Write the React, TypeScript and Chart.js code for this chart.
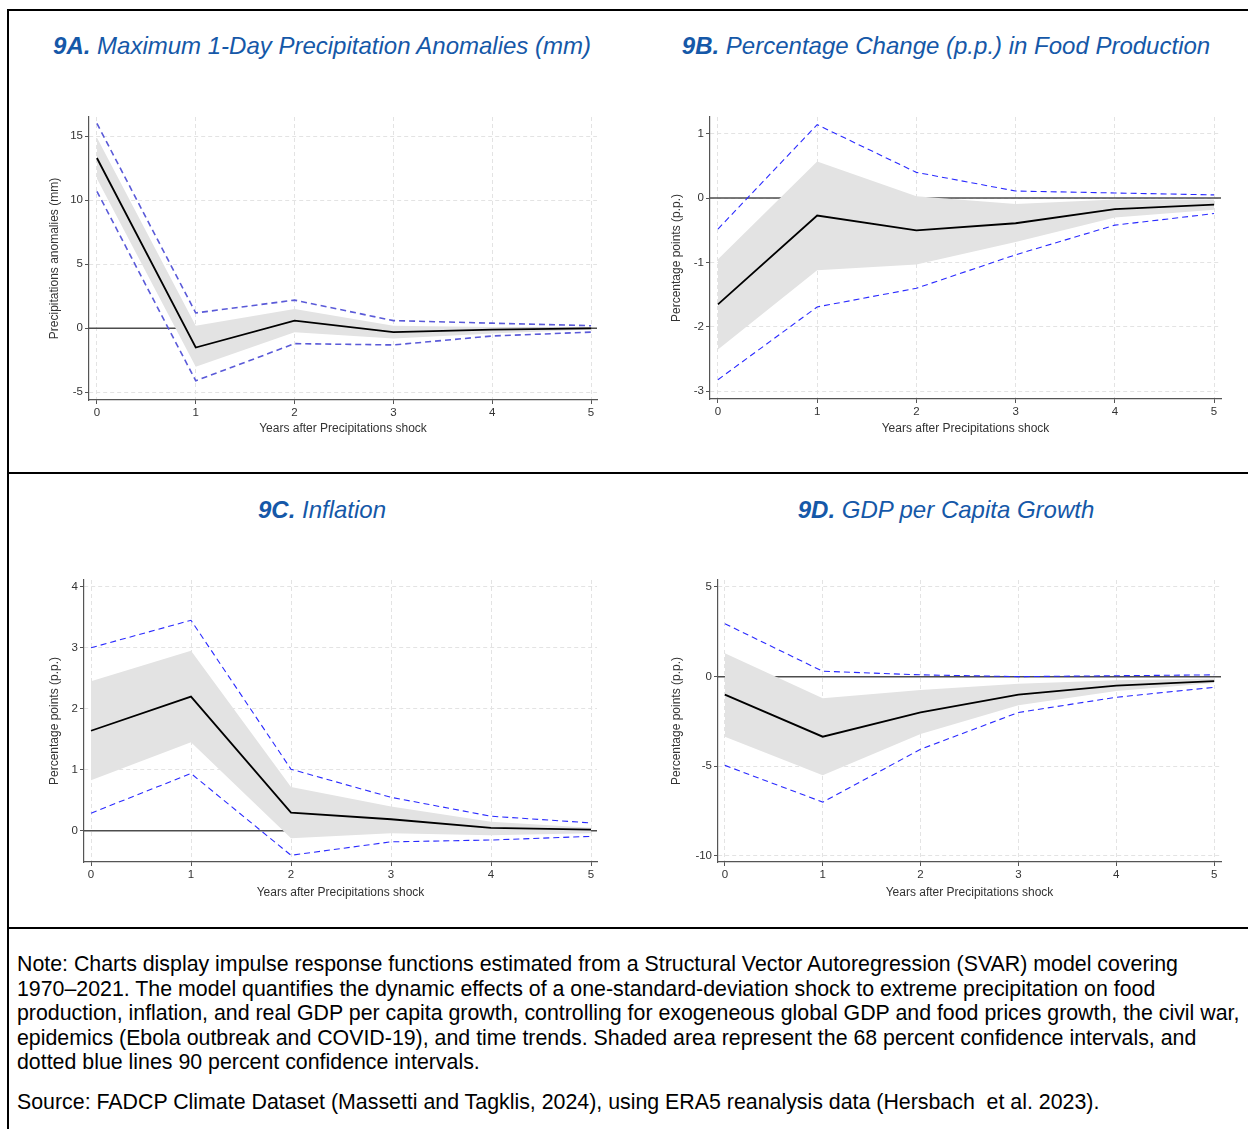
import React, { useEffect, useRef } from "react";
import { Chart, registerables } from "chart.js";

Chart.register(...registerables);

const FONT = "'Liberation Sans', Arial, sans-serif";

// ---------- data ----------
const years = [0, 1, 2, 3, 4, 5];

// 9A. Maximum 1-day precipitation anomalies (mm)
const aMean = [13.3, -1.5, 0.6, -0.3, -0.1, 0.0];
const aHi68 = [14.9, 0.2, 1.5, 0.2, 0.1, 0.05];
const aLo68 = [11.7, -3.0, -0.3, -0.8, -0.4, -0.1];
const aHi90 = [16.0, 1.2, 2.2, 0.6, 0.4, 0.2];
const aLo90 = [10.7, -4.1, -1.2, -1.3, -0.6, -0.3];
const aYTicks = [-5, 0, 5, 10, 15];

// 9B. Percentage change (p.p.) in food production
const bMean = [-1.65, -0.27, -0.5, -0.39, -0.17, -0.1];
const bHi68 = [-0.95, 0.57, 0.03, -0.09, -0.02, -0.02];
const bLo68 = [-2.35, -1.12, -1.03, -0.68, -0.3, -0.18];
const bHi90 = [-0.48, 1.14, 0.4, 0.11, 0.08, 0.05];
const bLo90 = [-2.82, -1.69, -1.4, -0.88, -0.42, -0.24];
const bYTicks = [-3, -2, -1, 0, 1];

// 9C. Inflation
const cMean = [1.64, 2.2, 0.3, 0.19, 0.05, 0.02];
const cHi68 = [2.45, 2.95, 0.72, 0.4, 0.15, 0.05];
const cLo68 = [0.83, 1.45, -0.12, -0.04, -0.07, -0.04];
const cHi90 = [3.0, 3.45, 1.01, 0.55, 0.24, 0.13];
const cLo90 = [0.29, 0.94, -0.4, -0.18, -0.15, -0.09];
const cYTicks = [0, 1, 2, 3, 4];

// 9D. GDP per capita growth
const dMean = [-1.0, -3.35, -2.0, -1.0, -0.5, -0.25];
const dHi68 = [1.3, -1.2, -0.75, -0.4, -0.2, -0.1];
const dLo68 = [-3.35, -5.5, -3.2, -1.6, -0.8, -0.35];
const dHi90 = [2.95, 0.3, 0.1, 0.0, 0.05, 0.1];
const dLo90 = [-4.95, -7.0, -4.05, -2.0, -1.15, -0.6];
const dYTicks = [-10, -5, 0, 5];

const xTicks = [0, 1, 2, 3, 4, 5];
const xTitle = "Years after Precipitations shock";

const pts = (vals: number[]) => vals.map((v, i) => ({ x: years[i], y: v }));

const zeroLinePlugin = {
  id: "zeroLine",
  beforeDatasetsDraw(chart: any) {
    const { ctx, chartArea, scales } = chart;
    const y = scales.y.getPixelForValue(0);
    ctx.save();
    ctx.strokeStyle = "#4d4d4d";
    ctx.lineWidth = 1.5;
    ctx.beginPath();
    ctx.moveTo(chartArea.left, y);
    ctx.lineTo(chartArea.right, y);
    ctx.stroke();
    ctx.restore();
  },
};

type PanelProps = {
  rect: { left: number; top: number; right: number; bottom: number };
  xMin: number;
  xMax: number;
  yMin: number;
  yMax: number;
  yTicks: number[];
  yTitle: string;
  yTitleX: number;
  xTitleY: number;
  mean: number[];
  hi68: number[];
  lo68: number[];
  hi90: number[];
  lo90: number[];
  ciColor: string;
  ciWidth: number;
};

function Panel(p: PanelProps) {
  const ref = useRef<HTMLCanvasElement | null>(null);
  const padL = 60;
  const padT = 12;
  const padR = 12;
  const xH = 50;
  const cLeft = p.rect.left - padL;
  const cTop = p.rect.top - padT;
  const w = p.rect.right - p.rect.left + padL + padR;
  const h = p.rect.bottom - p.rect.top + padT + xH;
  const titleSize = 12;
  const half = (titleSize * 1.2) / 2;

  useEffect(() => {
    if (!ref.current) return;
    const gridCommon = {
      color: "#e3e3e3",
      lineWidth: 1,
      tickColor: "#555",
      tickLength: 4,
      tickWidth: 1,
      tickBorderDash: [],
    };
    const chart = new Chart(ref.current, {
      type: "line",
      data: {
        datasets: [
          {
            data: pts(p.mean),
            borderColor: "#000",
            borderWidth: 1.8,
            pointRadius: 0,
            tension: 0,
            fill: false,
          },
          {
            data: pts(p.hi90),
            borderColor: p.ciColor,
            borderWidth: p.ciWidth,
            borderDash: [6, 4],
            pointRadius: 0,
            tension: 0,
            fill: false,
          },
          {
            data: pts(p.lo90),
            borderColor: p.ciColor,
            borderWidth: p.ciWidth,
            borderDash: [6, 4],
            pointRadius: 0,
            tension: 0,
            fill: false,
          },
          {
            data: pts(p.hi68),
            borderColor: "rgba(0,0,0,0)",
            borderWidth: 0,
            backgroundColor: "#e3e3e3",
            pointRadius: 0,
            tension: 0,
            fill: "+1",
          },
          {
            data: pts(p.lo68),
            borderColor: "rgba(0,0,0,0)",
            borderWidth: 0,
            pointRadius: 0,
            tension: 0,
            fill: false,
          },
        ],
      },
      options: {
        responsive: false,
        animation: false,
        layout: { padding: { top: padT, right: padR, left: 0, bottom: 0 } },
        plugins: { legend: { display: false }, tooltip: { enabled: false } },
        scales: {
          x: {
            type: "linear",
            min: p.xMin,
            max: p.xMax,
            afterBuildTicks: (s: any) => {
              s.ticks = xTicks.map((v) => ({ value: v }));
            },
            afterFit: (s: any) => {
              s.height = xH;
            },
            grid: gridCommon,
            border: { color: "#555", width: 1.2, dash: [4, 3] },
            ticks: {
              color: "#333",
              font: { family: FONT, size: 11.5 },
              padding: 2,
              maxRotation: 0,
              autoSkip: false,
              callback: (v: any) => String(v),
            },
            title: {
              display: true,
              text: xTitle,
              color: "#333",
              font: { family: FONT, size: titleSize },
              padding: { top: 0, bottom: xH - (p.xTitleY - p.rect.bottom) - half },
            },
          },
          y: {
            type: "linear",
            min: p.yMin,
            max: p.yMax,
            afterBuildTicks: (s: any) => {
              s.ticks = p.yTicks.map((v) => ({ value: v }));
            },
            afterFit: (s: any) => {
              s.width = padL;
            },
            grid: gridCommon,
            border: { color: "#555", width: 1.2, dash: [4, 3] },
            ticks: {
              color: "#333",
              font: { family: FONT, size: 11.5 },
              padding: 2,
              autoSkip: false,
              callback: (v: any) => String(v),
            },
            title: {
              display: true,
              text: p.yTitle,
              color: "#333",
              font: { family: FONT, size: titleSize },
              padding: { top: p.yTitleX - cLeft - half, bottom: 0 },
            },
          },
        },
      },
      plugins: [zeroLinePlugin],
    } as any);
    return () => chart.destroy();
  }, []);

  return (
    <canvas
      ref={ref}
      width={w}
      height={h}
      style={{ position: "absolute", left: cLeft, top: cTop, width: w, height: h }}
    />
  );
}

function Title({ cx, cy, bold, rest }: { cx: number; cy: number; bold: string; rest: string }) {
  return (
    <div
      style={{
        position: "absolute",
        left: cx - 320,
        width: 640,
        top: cy - 14,
        height: 28,
        lineHeight: "28px",
        textAlign: "center",
        fontFamily: FONT,
        fontSize: 24,
        fontStyle: "italic",
        color: "#1558a8",
        whiteSpace: "nowrap",
      }}
    >
      <span style={{ fontWeight: "bold" }}>{bold}</span> {rest}
    </div>
  );
}

const noteLines = [
  "Note: Charts display impulse response functions estimated from a Structural Vector Autoregression (SVAR) model covering",
  "1970–2021. The model quantifies the dynamic effects of a one-standard-deviation shock to extreme precipitation on food",
  "production, inflation, and real GDP per capita growth, controlling for exogeneous global GDP and food prices growth, the civil war,",
  "epidemics (Ebola outbreak and COVID-19), and time trends. Shaded area represent the 68 percent confidence intervals, and",
  "dotted blue lines 90 percent confidence intervals.",
];
const sourceLine =
  "Source: FADCP Climate Dataset (Massetti and Tagklis, 2024), using ERA5 reanalysis data (Hersbach  et al. 2023).";

export default function App() {
  const line = (style: React.CSSProperties) => (
    <div style={{ position: "absolute", background: "#000", ...style }} />
  );
  return (
    <div
      style={{
        position: "absolute",
        left: 0,
        top: 0,
        width: 1248,
        height: 1129,
        background: "#fff",
        overflow: "hidden",
      }}
    >
      {line({ left: 7, top: 9, width: 1241, height: 2 })}
      {line({ left: 7, top: 9, width: 2, height: 1120 })}
      {line({ left: 7, top: 472, width: 1241, height: 2 })}
      {line({ left: 7, top: 927, width: 1241, height: 2 })}

      <Title cx={322} cy={46} bold="9A." rest="Maximum 1-Day Precipitation Anomalies (mm)" />
      <Title cx={946} cy={46} bold="9B." rest="Percentage Change (p.p.) in Food Production" />
      <Title cx={322} cy={510} bold="9C." rest="Inflation" />
      <Title cx={946} cy={510} bold="9D." rest="GDP per Capita Growth" />

      <Panel
        rect={{ left: 89, top: 117, right: 597, bottom: 400 }}
        xMin={-0.08}
        xMax={5.06}
        yMin={-5.6}
        yMax={16.5}
        yTicks={aYTicks}
        yTitle="Precipitations anomalies (mm)"
        yTitleX={55}
        xTitleY={429}
        mean={aMean}
        hi68={aHi68}
        lo68={aLo68}
        hi90={aHi90}
        lo90={aLo90}
        ciColor="#5a5ad8"
        ciWidth={1.6}
      />
      <Panel
        rect={{ left: 710, top: 117, right: 1221, bottom: 399 }}
        xMin={-0.08}
        xMax={5.07}
        yMin={-3.12}
        yMax={1.26}
        yTicks={bYTicks}
        yTitle="Percentage points (p.p.)"
        yTitleX={677}
        xTitleY={429}
        mean={bMean}
        hi68={bHi68}
        lo68={bLo68}
        hi90={bHi90}
        lo90={bLo90}
        ciColor="#2a2aff"
        ciWidth={1.1}
      />
      <Panel
        rect={{ left: 84, top: 580, right: 597, bottom: 862 }}
        xMin={-0.07}
        xMax={5.06}
        yMin={-0.51}
        yMax={4.11}
        yTicks={cYTicks}
        yTitle="Percentage points (p.p.)"
        yTitleX={55}
        xTitleY={893}
        mean={cMean}
        hi68={cHi68}
        lo68={cLo68}
        hi90={cHi90}
        lo90={cLo90}
        ciColor="#2a2aff"
        ciWidth={1.1}
      />
      <Panel
        rect={{ left: 718, top: 580, right: 1221, bottom: 862 }}
        xMin={-0.07}
        xMax={5.07}
        yMin={-10.34}
        yMax={5.39}
        yTicks={dYTicks}
        yTitle="Percentage points (p.p.)"
        yTitleX={677}
        xTitleY={893}
        mean={dMean}
        hi68={dHi68}
        lo68={dLo68}
        hi90={dHi90}
        lo90={dLo90}
        ciColor="#2a2aff"
        ciWidth={1.1}
      />

      <div
        style={{
          position: "absolute",
          left: 17,
          top: 952,
          fontFamily: FONT,
          fontSize: 21.35,
          lineHeight: "24.5px",
          color: "#000",
          whiteSpace: "nowrap",
        }}
      >
        {noteLines.map((t, i) => (
          <div key={i}>{t}</div>
        ))}
      </div>
      <div
        style={{
          position: "absolute",
          left: 17,
          top: 1090,
          fontFamily: FONT,
          fontSize: 21.35,
          lineHeight: "24.5px",
          color: "#000",
          whiteSpace: "pre",
        }}
      >
        {sourceLine}
      </div>
    </div>
  );
}
